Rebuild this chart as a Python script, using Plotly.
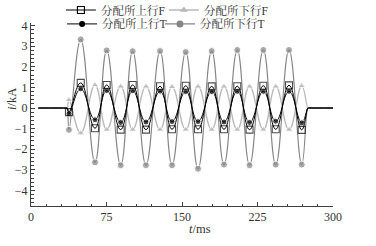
import plotly.graph_objects as go

# sample times (ms) of the marked points
t_samples = [37.7, 49.4, 63.6, 75.2, 89.1, 101.0, 114.2, 128.2, 140.1, 153.7,
             165.9, 179.5, 191.7, 204.9, 217.1, 230.8, 243.1, 256.3, 268.9]
# flat (zero) portions before and after the oscillation
t_flat_start = [7.3, 35.4, 36.0]
t_flat_end = [275.0, 275.6, 300.0]

up_F = [-0.20, 1.22, -0.98, 1.12, -1.05, 1.12, -1.05, 1.06, -1.03, 1.08,
        -1.03, 1.05, -1.03, 1.06, -1.05, 1.08, -1.03, 1.10, -1.06]
up_T = [-0.28, 0.93, -0.57, 0.85, -0.70, 0.84, -0.68, 0.82, -0.66, 0.80,
        -0.66, 0.80, -0.68, 0.81, -0.70, 0.81, -0.64, 0.81, -0.72]
down_F = [0.40, -1.22, 1.12, -1.05, 1.05, -1.05, 1.05, -1.05, 1.03, -1.05,
          1.05, -1.05, 1.05, -1.05, 1.05, -1.05, 1.05, -1.05, 1.08]
down_T = [-1.06, 3.33, -2.64, 2.80, -2.78, 2.76, -2.78, 2.77, -2.78, 2.72,
          -2.95, 2.77, -2.75, 2.82, -2.78, 2.82, -2.75, 2.82, -2.75]

names = ["分配所上行F", "分配所下行F", "分配所上行T", "分配所下行T"]
x_ticks = [0, 75, 150, 225, 300]
y_ticks = [-4, -3, -2, -1, 0, 1, 2, 3, 4]

FONT = "Liberation Serif, Noto Serif CJK SC, Noto Sans CJK SC"

x_all = t_flat_start + t_samples + t_flat_end
n_flat0 = len(t_flat_start)
n_flat1 = len(t_flat_end)


def series(vals):
    return [0.0] * n_flat0 + list(vals) + [0.0] * n_flat1


def sizes(s):
    return [0] * n_flat0 + [s] * len(t_samples) + [0] * n_flat1


styles = {
    names[3]: dict(line=dict(color="#858585", width=1.1),
                   marker=dict(symbol="circle", size=7, color="#858585"),
                   legend="legend4", data=down_T),
    names[1]: dict(line=dict(color="#b9b9b9", width=1.3),
                   marker=dict(symbol="triangle-up", size=7, color="#b9b9b9"),
                   legend="legend2", data=down_F),
    names[2]: dict(line=dict(color="#000000", width=1.0),
                   marker=dict(symbol="circle", size=6, color="#000000"),
                   legend="legend3", data=up_T),
    names[0]: dict(line=dict(color="#000000", width=1.0),
                   marker=dict(symbol="square-open", size=7, color="#000000",
                               line=dict(width=1.1)),
                   legend="legend", data=up_F),
}

fig = go.Figure()

for nm in [names[3], names[1], names[2], names[0]]:
    st = styles[nm]
    mk_data = dict(st["marker"])
    mk_data["size"] = sizes(st["marker"]["size"])
    fig.add_trace(go.Scatter(
        x=x_all, y=series(st["data"]), name=nm, mode="lines+markers",
        line=dict(st["line"], shape="spline", smoothing=1.3),
        marker=mk_data, showlegend=False))

# legend entries
for nm in names:
    st = styles[nm]
    fig.add_trace(go.Scatter(
        x=[None], y=[None], name=nm, mode="lines+markers",
        line=st["line"], marker=st["marker"], legend=st["legend"],
        showlegend=True))

axis_common = dict(
    showline=True, linecolor="#404040", linewidth=1, mirror=False,
    ticks="inside", ticklen=4, tickcolor="#404040", tickwidth=1,
    showgrid=False, zeroline=False,
    tickfont=dict(family=FONT, size=12, color="#333333"),
)

fig.update_xaxes(range=[0, 300], tickvals=x_ticks,
                 minor=dict(dtick=15, ticks="inside", ticklen=2.5,
                            tickcolor="#404040", showgrid=False),
                 **axis_common)
fig.update_yaxes(range=[-4.76, 4.13], tickvals=y_ticks,
                 minor=dict(dtick=0.2, ticks="inside", ticklen=2.5,
                            tickcolor="#404040", showgrid=False),
                 **axis_common)

legend_common = dict(
    orientation="h", bgcolor="rgba(0,0,0,0)",
    font=dict(family=FONT, size=11.5, color="#333333"),
    xanchor="left", yanchor="middle",
)

fig.update_layout(
    width=376, height=246,
    margin=dict(l=31, r=43, t=23, b=40, autoexpand=False),
    paper_bgcolor="white", plot_bgcolor="white",
    showlegend=True,
    legend=dict(x=0.099, y=1.071, **legend_common),
    legend2=dict(x=0.440, y=1.071, **legend_common),
    legend3=dict(x=0.103, y=0.995, **legend_common),
    legend4=dict(x=0.427, y=0.995, **legend_common),
    annotations=[
        dict(text="<i>t</i>/ms", x=0.56, y=-0.125, xref="paper", yref="paper",
             showarrow=False, xanchor="center", yanchor="middle",
             font=dict(family=FONT, size=12.5, color="#333333")),
        dict(text="<i>i</i>/kA", x=-0.063, y=0.585, xref="paper", yref="paper",
             showarrow=False, xanchor="center", yanchor="middle", textangle=-90,
             font=dict(family=FONT, size=12.5, color="#333333")),
    ],
)

fig.write_html("out.html")
